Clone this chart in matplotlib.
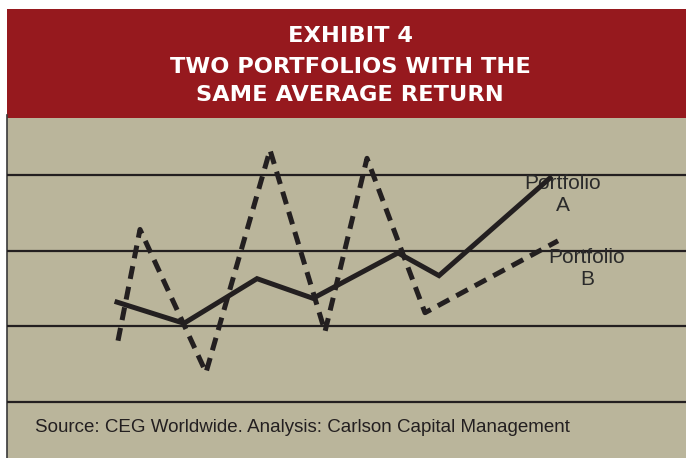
import matplotlib
matplotlib.use("Agg")
import matplotlib.pyplot as plt
from matplotlib.patches import Rectangle

# chart data (x = time step, y = cumulative return units, grid every 1 unit)
x_a = [11.0, 17.7, 25.0, 30.6, 39.1, 43.2, 54.3]
y_a = [1.32, 1.04, 1.63, 1.37, 1.97, 1.67, 2.96]
x_b = [11.1, 13.3, 19.9, 26.3, 31.8, 36.0, 41.8, 55.1]
y_b = [0.81, 2.28, 0.39, 3.33, 0.93, 3.22, 1.18, 2.13]
grid_levels = [0, 1, 2, 3]

title_lines = ["EXHIBIT 4", "TWO PORTFOLIOS WITH THE", "SAME AVERAGE RETURN"]
label_a = "Portfolio\nA"
label_b = "Portfolio\nB"
source = "Source: CEG Worldwide. Analysis: Carlson Capital Management"

RED = "#96191e"
TAN = "#bab59b"
INK = "#231f20"

W, H = 686, 458
fig = plt.figure(figsize=(W / 100, H / 100), dpi=100)
fig.patch.set_facecolor("white")

# background panels
bg = fig.add_axes([0, 0, 1, 1])
bg.set_xlim(0, W)
bg.set_ylim(H, 0)
bg.axis("off")
bg.add_patch(Rectangle((7, 9), W - 7, 109, color=RED, lw=0))
bg.add_patch(Rectangle((7, 118), W - 7, H - 118, color=TAN, lw=0))
bg.plot([7, 7], [115, H], color="#3a3a3a", lw=1.2)

ty = [36, 67, 95]
for t, yy in zip(title_lines, ty):
    bg.text(350, yy, t, color="white", fontsize=16.2, fontweight="bold",
            family="DejaVu Sans", ha="center", va="center")

bg.text(35, 428, source, color=INK, fontsize=13.5, family="Liberation Sans",
        ha="left", va="center")

# data axes over the tan area
ax = fig.add_axes([7 / W, 0, (W - 7) / W, (H - 118) / H])
ax.patch.set_alpha(0)
ax.set_xlim(0, 67.9)
ax.set_ylim(-0.74, 3.753)
for s in ax.spines.values():
    s.set_visible(False)
ax.set_xticks([])
ax.set_yticks([])
for g in grid_levels:
    ax.axhline(g, color=INK, lw=1.6, zorder=1)

ax.text(55.6, 2.74, label_a, color="#2a2a2a", fontsize=15, family="Liberation Sans",
        ha="center", va="center", multialignment="center", zorder=2)
ax.text(58.0, 1.76, label_b, color="#2a2a2a", fontsize=15, family="Liberation Sans",
        ha="center", va="center", multialignment="center", zorder=2)

ax.plot(x_a, y_a, color=INK, lw=3.6, solid_joinstyle="miter", zorder=3)
ax.plot(x_b, y_b, color=INK, lw=3.6, ls=(0, (2.6, 1.6)), dash_capstyle="butt",
        zorder=3)

fig.savefig("out.png", dpi=100)
